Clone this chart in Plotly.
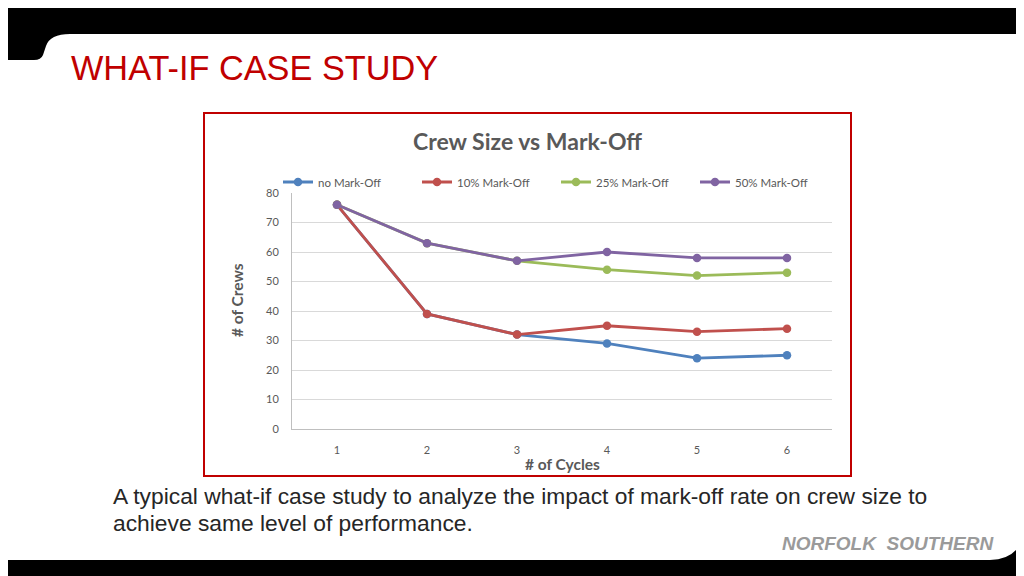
import plotly.graph_objects as go

# --- data ---
cycles = [1, 2, 3, 4, 5, 6]
no_markoff = [76, 39, 32, 29, 24, 25]
markoff_10 = [76, 39, 32, 35, 33, 34]
markoff_25 = [76, 63, 57, 54, 52, 53]
markoff_50 = [76, 63, 57, 60, 58, 58]
y_ticks = [0, 10, 20, 30, 40, 50, 60, 70, 80]

series = [
    ("no Mark-Off", no_markoff, "#4F81BD"),
    ("10% Mark-Off", markoff_10, "#C0504D"),
    ("25% Mark-Off", markoff_25, "#9BBB59"),
    ("50% Mark-Off", markoff_50, "#8064A2"),
]

W, H = 1024, 576
OFF = 8                                # page body margin
PL, PR, PT, PB = 292, 832, 193, 429    # plot area, screen pixels
CHART_FONT = "Lato, Carlito, Calibri, sans-serif"
SLIDE_FONT = "Liberation Sans, Arial, sans-serif"


def px(x):
    return (x - PL) / (PR - PL)


def py(y):
    return (PB - y) / (PB - PT)


def path(points):
    # screen pixel points -> paper-space SVG path
    d = ""
    for cmd, *xy in points:
        coords = []
        for i in range(0, len(xy), 2):
            coords.append(f"{px(xy[i]):.5f},{py(xy[i + 1]):.5f}")
        d += cmd + " " + " ".join(coords) + " "
    return d + "Z"


fig = go.Figure()
for name, vals, color in series:
    fig.add_trace(go.Scatter(
        x=cycles, y=vals, name=name, mode="lines+markers",
        line=dict(color=color, width=2.8),
        marker=dict(color=color, size=8.5),
    ))

# slide decoration: black bands with rounded corners
top_band = path([("M", -20, -20), ("L", W + 20, -20), ("L", W + 20, 34),
                 ("L", 70, 34), ("Q", 50, 34, 46, 46), ("L", 43, 55),
                 ("Q", 41, 60, 34, 60), ("L", -20, 60)])
bottom_band = path([("M", -20, H + 20), ("L", W + 20, H + 20), ("L", W + 20, 528),
                    ("L", W, 528), ("Q", 1022, 559, 990, 560), ("L", -20, 560)])

shapes = [
    dict(type="path", path=top_band, xref="paper", yref="paper",
         fillcolor="black", line=dict(width=0), layer="above"),
    dict(type="path", path=bottom_band, xref="paper", yref="paper",
         fillcolor="black", line=dict(width=0), layer="above"),
    dict(type="rect", xref="paper", yref="paper",
         x0=px(204), x1=px(851), y0=py(113), y1=py(476),
         line=dict(color="#C00000", width=2), fillcolor="rgba(0,0,0,0)"),
]

annotations = [
    dict(text="WHAT-IF CASE STUDY", x=px(69), y=py(68), xanchor="left",
         yanchor="middle", font=dict(family=SLIDE_FONT, size=34.3, color="#C00000")),
    dict(text="<b>Crew Size vs Mark-Off</b>", x=px(527), y=py(141),
         xanchor="center", yanchor="middle",
         font=dict(family=CHART_FONT, size=23, color="#595959")),
    dict(text="<b># of Crews</b>", x=px(237), y=py(300), textangle=-90,
         xanchor="center", yanchor="middle",
         font=dict(family=CHART_FONT, size=15.5, color="#595959")),
    dict(text="<b># of Cycles</b>", x=px(562), y=py(464),
         xanchor="center", yanchor="middle",
         font=dict(family=CHART_FONT, size=15.5, color="#595959")),
    dict(text="A typical what-if case study to analyze the impact of mark-off rate on crew size to",
         x=px(111), y=py(496), xanchor="left", yanchor="middle",
         font=dict(family=SLIDE_FONT, size=22.8, color="#262626")),
    dict(text="achieve same level of performance.",
         x=px(111), y=py(523), xanchor="left", yanchor="middle",
         font=dict(family=SLIDE_FONT, size=22.8, color="#262626")),
    dict(text="<b><i>NORFOLK  SOUTHERN</i></b>", x=px(780), y=py(543),
         xanchor="left", yanchor="middle",
         font=dict(family=SLIDE_FONT, size=19, color="#9A9A9A")),
]
for a in annotations:
    a.update(xref="paper", yref="paper", showarrow=False)

fig.update_layout(
    width=W, height=H,
    margin=dict(l=PL - OFF, r=W - PR + OFF, t=PT - OFF, b=H - PB + OFF, pad=0),
    paper_bgcolor="white", plot_bgcolor="white",
    font=dict(family=CHART_FONT, size=11, color="#595959"),
    shapes=shapes, annotations=annotations,
    legend=dict(orientation="h", x=px(278), y=py(182), xanchor="left",
                yanchor="middle", entrywidth=94, entrywidthmode="pixels",
                font=dict(family=CHART_FONT, size=11.5, color="#595959"),
                bgcolor="rgba(0,0,0,0)", itemclick=False),
    xaxis=dict(range=[0.5, 6.5], tickvals=cycles, showgrid=False,
               showline=True, linecolor="#BFBFBF", linewidth=1,
               zeroline=False, ticks="", ticklabelstandoff=11),
    yaxis=dict(range=[0, 80], tickvals=y_ticks, showgrid=True,
               gridcolor="#D9D9D9", gridwidth=1, showline=True,
               linecolor="#BFBFBF", linewidth=1, zeroline=False,
               ticks="", ticklabelstandoff=10),
)

fig.write_html("out.html")
